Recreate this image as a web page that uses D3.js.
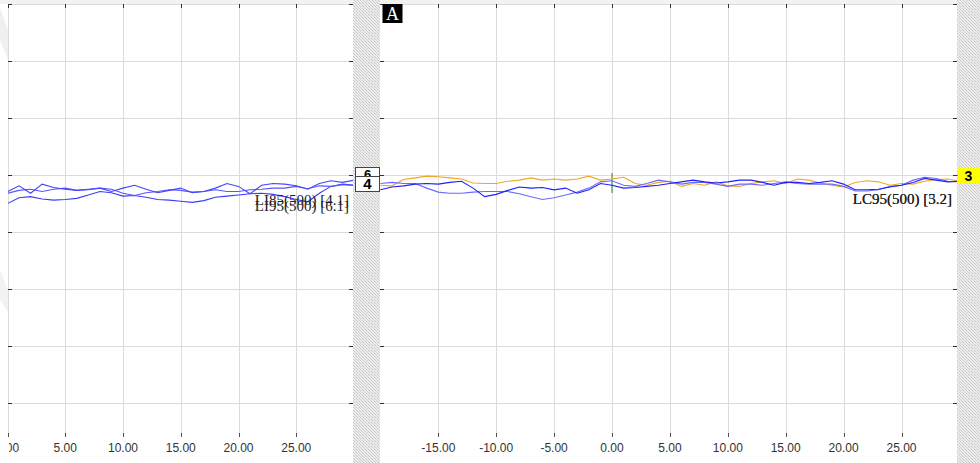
<!DOCTYPE html>
<html><head><meta charset="utf-8">
<script src="https://cdn.jsdelivr.net/npm/d3@7"></script>
<style>html,body{margin:0;padding:0;background:#fff;overflow:hidden}</style>
</head><body><svg id="c" width="980" height="463"></svg>
<script>
// ---------- data ----------
const leftTime = [0,1,2,3,4,5,6,7,8,9,10,11,12,13,14,15,16,17,18,19,20,21,22,23,24,25,26,27,28,29,30];
const leftSeriesA = [45.0,46.0,46.2,45.8,45.6,45.7,45.9,46.5,47.1,46.9,46.3,46.4,46.1,45.7,45.6,45.4,45.2,45.5,46.1,46.3,46.5,46.7,46.8,46.6,46.2,45.7,45.3,46.8,48.0,48.4,48.2];
const leftSeriesB = [47.1,48.1,46.8,48.4,47.8,47.5,47.3,47.5,47.7,47.1,47.7,48.2,47.5,46.9,47.3,47.7,46.9,47.1,47.7,48.5,48.0,46.7,48.2,48.5,48.4,48.1,47.5,48.5,49.0,48.7,49.1];
const leftSeriesC = [46.8,47.3,47.5,47.1,47.5,47.7,47.3,47.4,47.7,47.5,46.8,46.4,46.9,47.1,47.4,47.3,47.0,47.1,47.4,47.1,47.1,47.4,47.5,47.7,47.7,48.0,47.6,48.1,48.0,48.3,48.2];

const rightTime = [-20,-19,-18,-17,-16,-15,-14,-13,-12,-11,-10,-9,-8,-7,-6,-5,-4,-3,-2,-1,0,1,2,3,4,5,6,7,8,9,10,11,12,13,14,15,16,17,18,19,20,21,22,23,24,25,26,27,28,29,30];
const rightOrange = [48.2,48.1,49.2,49.5,49.8,49.7,49.5,49.3,48.6,48.5,48.5,48.9,49.1,49.5,49.1,49.3,49.1,49.3,49.8,49.1,49.3,49.6,48.5,48.2,48.7,48.9,48.0,48.5,48.2,48.8,48.1,48.0,48.5,48.8,49.0,48.5,49.3,49.1,48.6,48.2,47.9,48.7,49.0,48.8,48.2,48.5,48.4,48.9,49.2,49.3,48.9];
const rightBlueDark = [47.4,47.9,48.1,48.4,48.5,48.4,48.7,48.9,47.7,46.2,46.6,47.3,47.9,47.7,47.8,47.4,47.7,46.8,47.4,48.5,48.2,47.7,47.8,48.0,48.2,48.5,48.8,49.1,48.8,48.6,48.8,49.1,49.1,48.7,48.2,48.7,48.7,48.5,48.7,49.0,48.4,47.4,47.4,47.5,47.9,48.2,48.7,49.4,49.1,48.8,48.9];
const rightBlueLight = [48.5,48.7,48.5,48.5,47.7,47.0,46.8,46.8,47.0,47.1,47.1,47.1,46.7,46.2,45.7,46.0,46.5,47.0,47.7,48.8,49.0,48.2,48.0,48.5,49.1,48.8,48.4,48.7,48.7,48.4,48.0,48.4,48.4,48.2,48.5,48.8,48.5,48.4,48.4,48.4,48.0,47.2,47.2,47.4,48.0,48.2,49.1,49.6,49.4,48.9,48.8];

const leftTicks = [0,5,10,15,20,25];
const rightTicks = [-15,-10,-5,0,5,10,15,20,25];
const yGridValues = [10,20,30,40,50,60,70,80];
const leftLegend = ["LI85(500) [4.1]","LI95(500) [6.1]"];
const rightLegend = ["LC95(500) [3.2]","LC95(500) [5.2]"];
const leftLastLabels = ["6","4"];
const rightLastLabels = ["3"];
const panelTag = "A";
const markerTime = 0;

// ---------- layout ----------
const svg = d3.select("#c");
const W = 980, H = 463;
const plotTop = 4, plotBottom = 433;
const y = d3.scaleLinear().domain([0,80]).range([460,4]);
const xL = d3.scaleLinear().domain([0,30]).range([7.5,354]);
const xR = d3.scaleLinear().domain([-20,30]).range([380.4,959.4]);
const fmt = d3.formatLocale({decimal:".",thousands:",",grouping:[3],currency:["",""],minus:"-"}).format(".2f");
const panels = [
  {id:"L", x0:8, x1:353, x:xL, ticks:leftTicks},
  {id:"R", x0:380, x1:957, x:xR, ticks:rightTicks}
];

const defs = svg.append("defs");
const pat = defs.append("pattern").attr("id","hatch").attr("width",3).attr("height",3)
  .attr("patternUnits","userSpaceOnUse");
pat.append("rect").attr("width",3).attr("height",3).attr("fill","#ececec");
pat.append("rect").attr("x",0).attr("y",0).attr("width",1).attr("height",1).attr("fill","#c8c8c8");
pat.append("rect").attr("x",1).attr("y",1).attr("width",1).attr("height",1).attr("fill","#d4d4d4");
pat.append("rect").attr("x",2).attr("y",2).attr("width",1).attr("height",1).attr("fill","#c8c8c8");

panels.forEach(p => {
  defs.append("clipPath").attr("id","clip"+p.id).append("rect")
    .attr("x",p.x0).attr("y",plotTop).attr("width",p.x1-p.x0).attr("height",plotBottom-plotTop);
  defs.append("clipPath").attr("id","lab"+p.id).append("rect")
    .attr("x",p.x0+1).attr("y",plotBottom).attr("width",p.x1-p.x0).attr("height",H-plotBottom);
});

// background
svg.append("rect").attr("width",W).attr("height",H).attr("fill","#fff");
svg.append("rect").attr("x",0).attr("y",0).attr("width",W).attr("height",4).attr("fill","#f2f2f2");
// faint watermark bits in margin
svg.append("path").attr("d","M0,8 L8,30 L8,60 L0,40 Z").attr("fill","#f0f0f0");
svg.append("path").attr("d","M0,270 L8,290 L8,312 L0,300 Z").attr("fill","#f2f2f2");

panels.forEach(p => {
  const g = svg.append("g");
  g.append("rect").attr("x",p.x0).attr("y",plotTop).attr("width",p.x1-p.x0).attr("height",plotBottom-plotTop).attr("fill","#fff");
  g.selectAll(".hg").data(yGridValues).enter().append("line")
    .attr("x1",p.x0).attr("x2",p.x1).attr("y1",d=>Math.round(y(d))+0.5).attr("y2",d=>Math.round(y(d))+0.5)
    .attr("stroke","#dcdcdc").attr("stroke-width",1);
  g.selectAll(".vg").data(p.ticks).enter().append("line")
    .attr("x1",d=>Math.round(p.x(d))+0.5).attr("x2",d=>Math.round(p.x(d))+0.5)
    .attr("y1",plotTop).attr("y2",plotBottom)
    .attr("stroke","#dcdcdc").attr("stroke-width",1);
  g.selectAll(".tt").data(p.ticks).enter().append("line")
    .attr("x1",d=>Math.round(p.x(d))+0.5).attr("x2",d=>Math.round(p.x(d))+0.5)
    .attr("y1",plotTop).attr("y2",plotTop+4).attr("stroke","#333");
  g.selectAll(".bt").data(p.ticks).enter().append("line")
    .attr("x1",d=>Math.round(p.x(d))+0.5).attr("x2",d=>Math.round(p.x(d))+0.5)
    .attr("y1",plotBottom).attr("y2",plotBottom+4).attr("stroke","#555");
  g.selectAll(".lt").data(yGridValues).enter().append("line")
    .attr("x1",p.x0).attr("x2",p.x0+4).attr("y1",d=>Math.round(y(d))+0.5).attr("y2",d=>Math.round(y(d))+0.5)
    .attr("stroke","#333");
  g.selectAll(".rt").data(yGridValues).enter().append("line")
    .attr("x1",p.x1-4).attr("x2",p.x1).attr("y1",d=>Math.round(y(d))+0.5).attr("y2",d=>Math.round(y(d))+0.5)
    .attr("stroke","#333");
  g.append("g").attr("clip-path","url(#lab"+p.id+")")
    .selectAll("text").data(p.ticks).enter().append("text")
    .attr("x",d=>p.x(d)).attr("y",452).attr("text-anchor","middle")
    .attr("font-family","'Liberation Sans', Arial, sans-serif").attr("font-size",12).attr("fill","#333")
    .text(d=>fmt(d));
});

// lines
const line = (xs, xsc) => d3.line().x((d,i)=>xsc(xs[i])).y(d=>y(d));
const gL = svg.append("g").attr("clip-path","url(#clipL)");
[[leftSeriesA,"#3a3aff"],[leftSeriesC,"#5656ff"],[leftSeriesB,"#4444ff"]].forEach(([s,c]) => {
  gL.append("path").attr("d",line(leftTime,xL)(s)).attr("fill","none").attr("stroke",c).attr("stroke-width",1.1);
});
const gR = svg.append("g").attr("clip-path","url(#clipR)");
gR.append("line").attr("x1",xR(markerTime)).attr("x2",xR(markerTime)).attr("y1",173).attr("y2",193)
  .attr("stroke","#3ca03c").attr("stroke-width",1.2);
[[rightOrange,"#f2a624"],[rightBlueLight,"#6a6aff"],[rightBlueDark,"#1f1fff"]].forEach(([s,c]) => {
  gR.append("path").attr("d",line(rightTime,xR)(s)).attr("fill","none").attr("stroke",c).attr("stroke-width",1.1);
});

// legends
svg.selectAll(".ll").data(leftLegend).enter().append("text")
  .attr("x",349).attr("y",(d,i)=>205+i*6).attr("text-anchor","end")
  .attr("font-family","'Liberation Serif', 'Times New Roman', serif").attr("font-size",15).attr("fill","#222")
  .text(d=>d);
svg.selectAll(".rl").data(rightLegend).enter().append("text")
  .attr("x",952).attr("y",204).attr("text-anchor","end")
  .attr("font-family","'Liberation Serif', 'Times New Roman', serif").attr("font-size",15).attr("fill","#222")
  .text(d=>d);

// hatched strips
svg.append("rect").attr("x",353).attr("y",0).attr("width",27).attr("height",H).attr("fill","url(#hatch)");
svg.append("rect").attr("x",957).attr("y",0).attr("width",23).attr("height",H).attr("fill","url(#hatch)");

// last-value boxes (left)
const lb = [{y:167,h:14,fs:13},{y:176,h:15,fs:15}];
leftLastLabels.forEach((t,i) => {
  const b = lb[i];
  svg.append("rect").attr("x",355.5).attr("y",b.y+0.5).attr("width",24).attr("height",b.h)
    .attr("fill","#fff").attr("stroke","#444").attr("stroke-width",1);
  svg.append("text").attr("x",367.5).attr("y",b.y+b.h-2).attr("text-anchor","middle")
    .attr("font-family","'Liberation Sans', Arial, sans-serif").attr("font-weight","bold")
    .attr("font-size",b.fs).attr("fill","#000").text(t);
});
// right yellow box
rightLastLabels.forEach(t => {
  svg.append("line").attr("x1",953).attr("x2",958).attr("y1",175.5).attr("y2",175.5).attr("stroke","#333");
  svg.append("rect").attr("x",957.5).attr("y",168).attr("width",23).attr("height",15).attr("fill","#ffff00");
  svg.append("text").attr("x",968.5).attr("y",181).attr("text-anchor","middle")
    .attr("font-family","'Liberation Sans', Arial, sans-serif").attr("font-weight","bold")
    .attr("font-size",14).attr("fill","#000").text(t);
});

// panel tag
svg.append("rect").attr("x",382.5).attr("y",4).attr("width",20).attr("height",19).attr("fill","#000");
svg.append("text").attr("x",392.5).attr("y",20).attr("text-anchor","middle")
  .attr("font-family","'Liberation Serif', 'Times New Roman', serif").attr("font-size",18).attr("fill","#fff").text(panelTag);
</script>
</body></html>
